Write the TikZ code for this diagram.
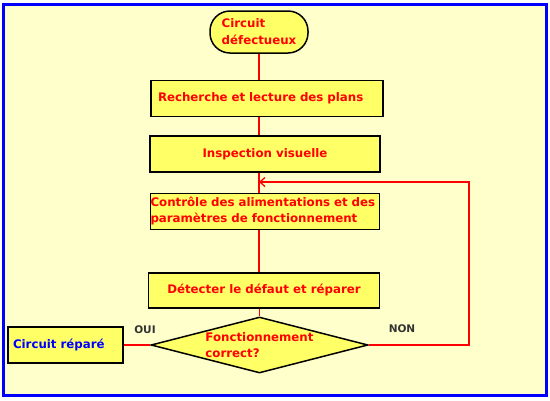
\documentclass[tikz,border=0pt]{standalone}
\usepackage{fontspec}
\setmainfont{DejaVu Sans}
\usepackage{xcolor}
\usetikzlibrary{arrows.meta}
\usetikzlibrary{positioning, shapes.geometric}
\definecolor{fondjaune}{HTML}{FFFFCC}
\definecolor{boitejaune}{HTML}{FFFF66}
\definecolor{gristexte}{HTML}{333333}
\tikzset{
  etape/.style={draw=black, line width=1.5pt, fill=boitejaune, text=red,
    minimum height=36pt, inner sep=0pt,
    font=\bfseries\fontsize{11.8}{16}\selectfont},
  terminal/.style={etape, rounded corners=20pt, minimum width=98pt, minimum height=42pt,
    align=left, font=\bfseries\fontsize{11.8}{17}\selectfont},
  test/.style={etape, diamond, minimum width=217pt, minimum height=56pt},
  legende/.style={text=red, align=left, font=\bfseries\fontsize{11.8}{16}\selectfont},
  lien/.style={draw=red, line width=1.3pt},
  reponse/.style={text=gristexte, font=\bfseries\fontsize{10.5}{12}\selectfont}
}

\begin{document}
\begin{tikzpicture}[x=1pt, y=-1pt]
  \useasboundingbox (0,0) rectangle (550,400);
  \draw[draw=blue, line width=2.2pt, fill=fondjaune] (3.5,4.5) rectangle (546.5,395.5);

  \node[terminal] (defaut) at (259,32) {Circuit\\défectueux};
  \node[etape, minimum width=232pt, text width=218pt, align=left,
        below=26pt of defaut, xshift=8pt] (plans) {Recherche et lecture des plans};
  \node[etape, minimum width=230pt, below=18pt of plans, xshift=-2pt] (visu) {Inspection visuelle};
  \node[etape, minimum width=229pt, text width=229pt, align=left,
        below=20pt of visu] (controle) {Contrôle des alimentations et des\\paramètres de fonctionnement};
  \node[etape, minimum width=231pt, minimum height=35pt,
        below=42pt of controle, xshift=-1pt] (reparer) {Détecter le défaut et réparer};
  \node[test, below=7.5pt of reparer, xshift=-4.5pt,
        label={[legende]center:{Fonctionnement\\correct?}}] (correct) {};
  \node[etape, minimum width=115pt, text width=105pt, align=left, text=blue,
        left=28pt of correct, xshift=1.5pt] (repare) {Circuit réparé};

  % connexions
  \coordinate (retour) at (259,182);
  \coordinate (coin) at (469,182);
  \draw[lien] (defaut.south) -- (defaut.south |- plans.north);
  \draw[lien] (defaut.south |- plans.south) -- (defaut.south |- visu.north);
  \draw[lien] (defaut.south |- visu.south) -- (defaut.south |- controle.north);
  \draw[lien] (defaut.south |- controle.south) -- (defaut.south |- reparer.north);
  \draw[lien] (correct.north |- reparer.south) -- (correct.north);
  \draw[lien] (correct.west) -- (repare.east);
  \draw[lien, -{Straight Barb[length=5pt, width=9pt]}] (correct.east) -| (coin) -- (retour);

  \node[reponse] (oui) at (145,330) {OUI};
  \node[reponse] (non) at (402,329) {NON};
\end{tikzpicture}
\end{document}
